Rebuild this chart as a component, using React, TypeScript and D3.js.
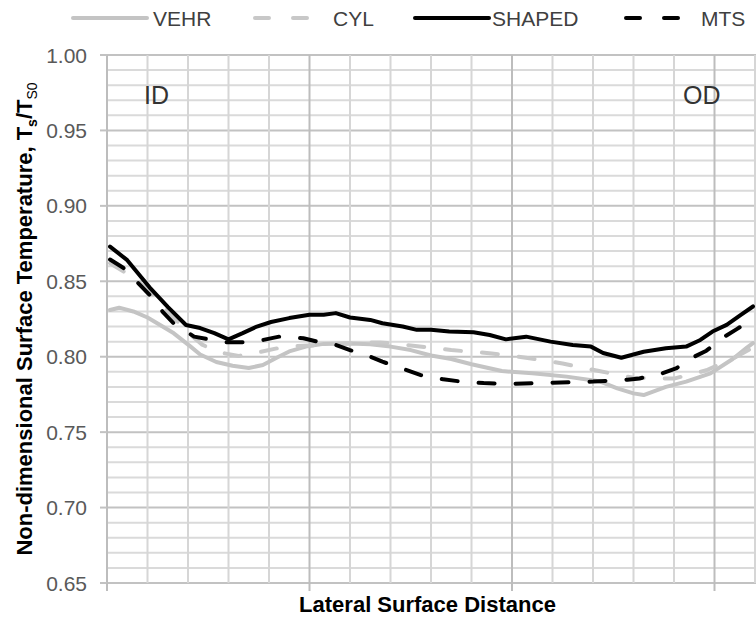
import React, { useEffect, useRef } from 'react';
import * as d3 from 'd3';

// lateral position in grid units (major tick = 1), value = Ts/Ts0
const vehrX = [0.015, 0.06, 0.13, 0.2, 0.25, 0.33, 0.41, 0.46, 0.54, 0.62, 0.7, 0.77, 0.84, 0.9, 0.99, 1.07, 1.2, 1.3, 1.4, 1.5, 1.6, 1.7, 1.8, 1.95, 2.1, 2.27, 2.43, 2.52, 2.6, 2.65, 2.76, 2.86, 2.98, 3.09, 3.16, 3.19];
const vehrY = [0.831, 0.8325, 0.83, 0.826, 0.822, 0.8155, 0.807, 0.8015, 0.7965, 0.794, 0.7925, 0.7945, 0.7995, 0.8035, 0.807, 0.8085, 0.8088, 0.8082, 0.8067, 0.8044, 0.8008, 0.7985, 0.795, 0.7905, 0.789, 0.7868, 0.7838, 0.779, 0.7757, 0.7746, 0.78, 0.7835, 0.789, 0.7985, 0.806, 0.809];

const cylX = [0.015, 0.1, 0.2, 0.3, 0.4, 0.47, 0.55, 0.65, 0.75, 0.88, 1.04, 1.2, 1.35, 1.5, 1.7, 1.9, 2.06, 2.25, 2.43, 2.6, 2.8, 2.96, 3.1, 3.19];
const cylY = [0.862, 0.855, 0.845, 0.83, 0.816, 0.808, 0.803, 0.8005, 0.803, 0.8067, 0.8078, 0.809, 0.8095, 0.8075, 0.8044, 0.8022, 0.7995, 0.7955, 0.7905, 0.786, 0.7855, 0.791, 0.7995, 0.806];

const shapedX = [0.015, 0.1, 0.21, 0.3, 0.39, 0.46, 0.53, 0.6, 0.67, 0.74, 0.81, 0.9, 1.0, 1.07, 1.13, 1.2, 1.3, 1.36, 1.46, 1.53, 1.6, 1.69, 1.81, 1.89, 1.97, 2.07, 2.19, 2.3, 2.39, 2.45, 2.54, 2.65, 2.76, 2.86, 2.93, 2.99, 3.06, 3.13, 3.19];
const shapedY = [0.873, 0.864, 0.846, 0.833, 0.821, 0.819, 0.8156, 0.8115, 0.8156, 0.82, 0.823, 0.8256, 0.8278, 0.8278, 0.8289, 0.826, 0.8244, 0.8222, 0.82, 0.8178, 0.8178, 0.8167, 0.8162, 0.8144, 0.8115, 0.8133, 0.81, 0.8078, 0.8067, 0.8025, 0.7993, 0.8033, 0.8056, 0.8067, 0.8111, 0.8167, 0.8211, 0.8278, 0.8333];

const mtsX = [0.015, 0.08, 0.16, 0.21, 0.28, 0.33, 0.43, 0.49, 0.59, 0.67, 0.77, 0.85, 0.97, 1.04, 1.13, 1.2, 1.3, 1.36, 1.48, 1.55, 1.66, 1.75, 1.86, 2.0, 2.2, 2.4, 2.57, 2.63, 2.74, 2.81, 2.9, 2.96, 3.05, 3.11, 3.19];
const mtsY = [0.8644, 0.859, 0.848, 0.841, 0.829, 0.822, 0.8133, 0.8118, 0.8096, 0.8096, 0.8111, 0.8133, 0.8122, 0.81, 0.8078, 0.8044, 0.8, 0.7967, 0.7911, 0.7878, 0.785, 0.7835, 0.7825, 0.782, 0.7828, 0.7835, 0.7848, 0.7856, 0.7889, 0.7922, 0.8, 0.804, 0.8133, 0.8183, 0.825];

const yTicks = ['0.65', '0.70', '0.75', '0.80', '0.85', '0.90', '0.95', '1.00'];

const series = [
  { name: 'VEHR', xs: vehrX, ys: vehrY, color: '#c4c4c4', dash: null },
  { name: 'CYL', xs: cylX, ys: cylY, color: '#c8c8c8', dash: '16 21' },
  { name: 'SHAPED', xs: shapedX, ys: shapedY, color: '#000000', dash: null },
  { name: 'MTS', xs: mtsX, ys: mtsY, color: '#000000', dash: '16 21' },
];

const FONT = '"Liberation Sans", Arial, sans-serif';

const App: React.FC = () => {
  const svgRef = useRef<SVGSVGElement>(null);

  useEffect(() => {
    if (!svgRef.current) return;
    const svg = d3.select(svgRef.current);
    svg.selectAll('*').remove();

    const width = 756;
    const height = 628;
    const margin = { top: 55, right: 1, bottom: 45, left: 107 };

    const x = d3.scaleLinear().domain([0, 3.2]).range([margin.left, width - margin.right]);
    const y = d3.scaleLinear().domain([0.65, 1.0]).range([height - margin.bottom, margin.top]);

    // grid
    const grid = svg.append('g');
    const hLines = d3.range(65, 101).map(v => v / 100);
    grid.selectAll('.hgrid')
      .data(hLines)
      .enter()
      .append('line')
      .attr('x1', x(0))
      .attr('x2', width)
      .attr('y1', d => y(d))
      .attr('y2', d => y(d))
      .attr('stroke', d => (Math.round(d * 100) % 5 === 0 ? '#c2c2c2' : '#dadada'))
      .attr('stroke-width', 2);

    const vLines = d3.range(0, 17).map(v => v * 0.2);
    grid.selectAll('.vgrid')
      .data(vLines)
      .enter()
      .append('line')
      .attr('x1', d => x(d))
      .attr('x2', d => x(d))
      .attr('y1', y(1.0))
      .attr('y2', y(0.65))
      .attr('stroke', d => (Math.abs(d - Math.round(d)) < 1e-6 ? '#bdbdbd' : '#d6d6d6'))
      .attr('stroke-width', 2);

    // axes ticks
    svg.selectAll('.ytick')
      .data(yTicks)
      .enter()
      .append('line')
      .attr('x1', x(0) - 7)
      .attr('x2', x(0))
      .attr('y1', d => y(+d))
      .attr('y2', d => y(+d))
      .attr('stroke', '#c2c2c2')
      .attr('stroke-width', 2);

    svg.selectAll('.xtick')
      .data([0, 1, 2, 3])
      .enter()
      .append('line')
      .attr('x1', d => x(d))
      .attr('x2', d => x(d))
      .attr('y1', y(0.65))
      .attr('y2', y(0.65) + 8)
      .attr('stroke', '#bdbdbd')
      .attr('stroke-width', 2);

    svg.selectAll('.ylabel')
      .data(yTicks)
      .enter()
      .append('text')
      .attr('x', x(0) - 20)
      .attr('y', d => y(+d))
      .attr('dy', '0.36em')
      .attr('text-anchor', 'end')
      .style('font-family', FONT)
      .style('font-size', '21px')
      .style('fill', '#595959')
      .text(d => d);

    // series lines
    const line = d3.line<[number, number]>()
      .x(d => x(d[0]))
      .y(d => y(d[1]));

    series.forEach(s => {
      const pts = s.xs.map((v, i) => [v, s.ys[i]] as [number, number]);
      svg.append('path')
        .attr('d', line(pts))
        .attr('fill', 'none')
        .attr('stroke', s.color)
        .attr('stroke-width', 4)
        .attr('stroke-linejoin', 'round')
        .attr('stroke-linecap', 'round')
        .attr('stroke-dasharray', s.dash);
    });

    // ID / OD labels
    svg.append('text')
      .attr('x', 144)
      .attr('y', 104)
      .style('font-family', FONT)
      .style('font-size', '25px')
      .style('fill', '#333')
      .text('ID');
    svg.append('text')
      .attr('x', 683)
      .attr('y', 104)
      .style('font-family', FONT)
      .style('font-size', '25px')
      .style('fill', '#333')
      .text('OD');

    // legend
    const legendItems = [
      { x1: 73, x2: 147, tx: 153 },
      { x1: 255, x2: 311, tx: 333 },
      { x1: 415, x2: 489, tx: 492 },
      { x1: 626, x2: 685, tx: 701 },
    ];
    series.forEach((s, i) => {
      const li = legendItems[i];
      svg.append('line')
        .attr('x1', li.x1)
        .attr('x2', li.x2)
        .attr('y1', 18)
        .attr('y2', 18)
        .attr('stroke', s.color)
        .attr('stroke-width', 4)
        .attr('stroke-linecap', 'round')
        .attr('stroke-dasharray', s.dash ? '14 24' : null);
      svg.append('text')
        .attr('x', li.tx)
        .attr('y', 26)
        .style('font-family', FONT)
        .style('font-size', '21px')
        .style('fill', '#404040')
        .text(s.name);
    });

    // axis titles
    svg.append('text')
      .attr('x', (x(0) + width) / 2 - 4)
      .attr('y', 612)
      .attr('text-anchor', 'middle')
      .style('font-family', FONT)
      .style('font-size', '22px')
      .style('font-weight', 'bold')
      .style('fill', '#000')
      .text('Lateral Surface Distance');

    const yt = svg.append('text')
      .attr('transform', `translate(32,${(y(1) + y(0.65)) / 2}) rotate(-90)`)
      .attr('text-anchor', 'middle')
      .style('font-family', FONT)
      .style('font-size', '22px')
      .style('font-weight', 'bold')
      .style('fill', '#000');
    yt.append('tspan').text('Non-dimensional Surface Temperature, T');
    yt.append('tspan').attr('dy', 5).style('font-size', '14px').text('s');
    yt.append('tspan').attr('dy', -5).text('/T');
    yt.append('tspan').attr('dy', 5).style('font-size', '14px').style('font-weight', 'normal').text('S0');
  }, []);

  return (
    <svg
      ref={svgRef}
      width={756}
      height={628}
      style={{ position: 'absolute', left: 0, top: 0, background: '#fff' }}
    />
  );
};

export default App;
